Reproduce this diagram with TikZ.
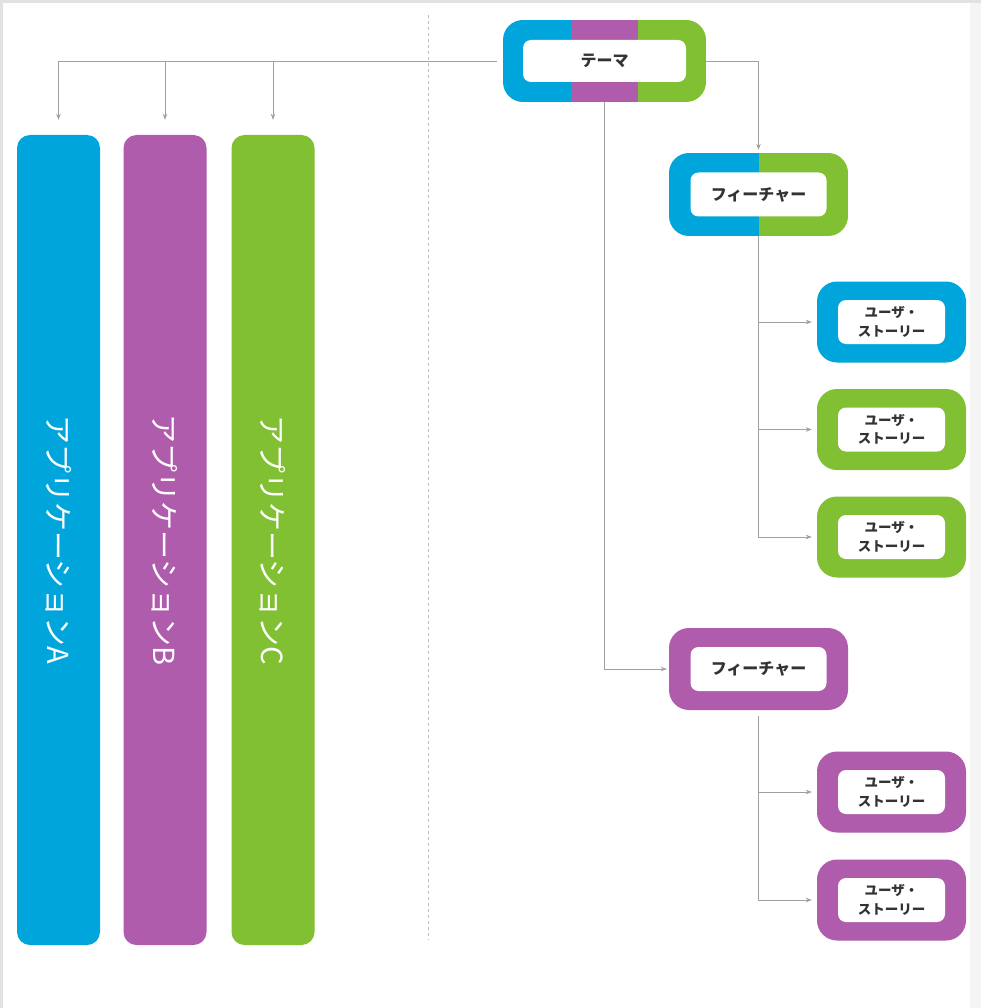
\documentclass[tikz,border=0pt]{standalone}
\usepackage{fontspec}
\newfontfamily\jp{Noto Sans CJK JP}
\usetikzlibrary{arrows.meta}
\definecolor{cblue}{RGB}{0,166,219}
\definecolor{cpurple}{RGB}{176,92,172}
\definecolor{cgreen}{RGB}{128,192,50}
\definecolor{cline}{RGB}{160,160,160}
\definecolor{ctext}{RGB}{51,51,51}
\definecolor{cedge}{RGB}{226,226,226}
\tikzset{
  x=1pt, y=-1pt,
  bar/.style={rounded corners=13pt, minimum width=83pt, minimum height=810pt,
    inner sep=0pt, text=white, font=\jp\fontsize{29}{29}\selectfont},
  frame/.style={rounded corners=20pt, inner sep=0pt},
  label/.style={fill=white, rounded corners=8pt, inner sep=0pt, align=center,
    text=ctext, font=\jp\bfseries\fontsize{16}{18}\selectfont},
  storylabel/.style={label, minimum width=107pt, minimum height=44pt,
    font=\jp\bfseries\fontsize{13.5}{18.5}\selectfont},
  featlabel/.style={label, minimum width=136pt, minimum height=44pt},
  conn/.style={draw=cline, line width=0.9pt},
  arr/.style={conn, -{Stealth[length=6pt,width=4.5pt]}},
  apptext/.style={rotate=-90, text=white, font=\jp\fontsize{29}{29}\selectfont},
}
\begin{document}
\begin{tikzpicture}
  % page and thin grey edges
  \fill[white] (0,0) rectangle (981,1008);
  \useasboundingbox (0,0) rectangle (981,1008);
  \fill[cedge] (0,0) rectangle (981,3);
  \fill[cedge] (0,0) rectangle (3,1008);
  \fill[black!4] (970,3) rectangle (981,1008);

  % application columns
  \node[bar, fill=cblue]   (appA) at (58.5,540) {};
  \node[bar, fill=cpurple] (appB) at (165,540) {};
  \node[bar, fill=cgreen]  (appC) at (273,540) {};
  \node[apptext] (tA) at (appA.center) {アプリケーションA};
  \node[apptext] (tB) at (appB.center) {アプリケーションB};
  \node[apptext] (tC) at (appC.center) {アプリケーションC};

  % separator
  \coordinate (sepTop) at (428,15);
  \coordinate (sepBot) at (428,940);
  \draw[cline!70, line width=0.8pt, dash pattern=on 3pt off 3pt] (sepTop) -- (sepBot);

  % theme box, three colours
  \node[frame, minimum width=203pt, minimum height=82pt,
    path picture={
      \fill[cblue, sharp corners] (path picture bounding box.north west) rectangle ++(68,82);
      \fill[cpurple, sharp corners] ([xshift=68pt]path picture bounding box.north west) rectangle ++(67,82);
      \fill[cgreen, sharp corners] ([xshift=135pt]path picture bounding box.north west) rectangle (path picture bounding box.south east);
    }] (theme) at (604.5,61) {};
  \node[label, minimum width=163pt, minimum height=42pt] (themeL) at (theme.center) {テーマ};

  % feature 1, blue and green
  \node[frame, minimum width=179pt, minimum height=83pt,
    path picture={
      \fill[cblue, sharp corners] (path picture bounding box.north west) rectangle ++(89.5,83);
      \fill[cgreen, sharp corners] ([xshift=89.5pt]path picture bounding box.north west) rectangle (path picture bounding box.south east);
    }] (feat1) at (758.5,194.5) {};
  \node[featlabel] (feat1L) at (feat1.center) {フィーチャー};

  % feature 2, purple
  \node[frame, fill=cpurple, minimum width=179pt, minimum height=82pt] (feat2) at (758.5,669) {};
  \node[featlabel] (feat2L) at (feat2.center) {フィーチャー};

  % user stories
  \foreach \n/\y/\c in {us1/322/cblue, us2/429.5/cgreen, us3/537/cgreen, us4/792/cpurple, us5/900/cpurple}{
    \node[frame, fill=\c, minimum width=149pt, minimum height=81pt] (\n) at (891.5,\y) {};
    \node[storylabel] (\n L) at (\n.center) {ユーザ・\\ストーリー};
  }

  % theme to applications
  \draw[arr, shorten <=6pt, shorten >=15pt] (theme.west) -| (appA.north);
  \draw[arr, shorten >=15pt] (appB.north |- theme.west) -- (appB.north);
  \draw[arr, shorten >=15pt] (appC.north |- theme.west) -- (appC.north);

  % theme to features
  \draw[arr, shorten >=3pt] (theme.east) -| (feat1.north);
  \draw[arr, shorten >=2pt] (theme.south) |- (feat2.west);

  % features to user stories
  \draw[arr, shorten >=5pt] (feat1.south) |- (us3.west);
  \draw[arr, shorten >=5pt] (feat1.south |- us1.west) -- (us1.west);
  \draw[arr, shorten >=5pt] (feat1.south |- us2.west) -- (us2.west);
  \draw[arr, shorten <=6pt, shorten >=5pt] (feat2.south) |- (us5.west);
  \draw[arr, shorten >=5pt] (feat2.south |- us4.west) -- (us4.west);
\end{tikzpicture}
\end{document}
